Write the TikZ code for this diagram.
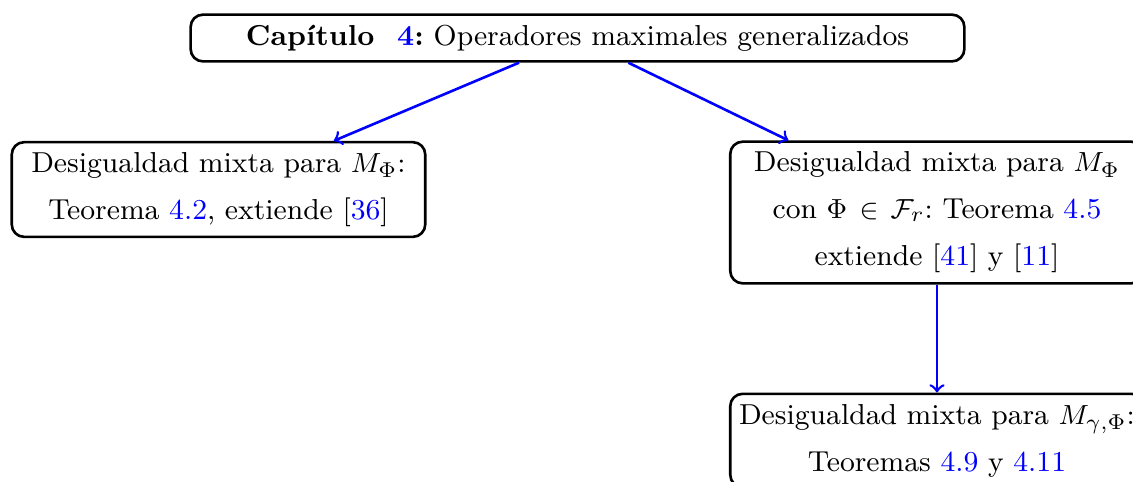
\documentclass[tikz,border=0pt]{standalone}
\usetikzlibrary{arrows}
\begin{document}
\frenchspacing
\begin{tikzpicture}[x=0.3257pt,y=-0.3257pt,
  box/.style={draw=black,line width=0.85pt,rounded corners=4pt,align=center,
    font=\fontsize{9.4}{15.3}\selectfont\frenchspacing,inner sep=3.33pt},
  sidebox/.style={box,text width=128pt},
  link/.style={draw=blue,line width=0.85pt,->}]
\useasboundingbox (0,0) rectangle (1133,481);
\node[box,minimum width=252pt,minimum height=15pt] (top) at (577.5,38)
  {\textbf{Capítulo\ \ \textcolor{blue}{4}:} Operadores maximales generalizados};
\node[sidebox] (left) at (218.5,189.5)
  {Desigualdad mixta para $M_\Phi$:\\ Teorema \textcolor{blue}{4.2}, extiende [\textcolor{blue}{36}]};
\node[sidebox] (right) at (937,212.5)
  {Desigualdad mixta para $M_\Phi$\\ con $\Phi\in\mathcal{F}_r$: Teorema \textcolor{blue}{4.5}\\ extiende [\textcolor{blue}{41}] y [\textcolor{blue}{11}]};
\node[sidebox] (bottom) at (937,440.5)
  {\makebox[\linewidth][c]{Desigualdad mixta para $M_{\gamma,\Phi}$:}\\ Teoremas \textcolor{blue}{4.9} y \textcolor{blue}{4.11}};
\draw[link] (top) -- (left);
\draw[link] (top) -- (right);
\draw[link] (right) -- (bottom);
\end{tikzpicture}
\end{document}
